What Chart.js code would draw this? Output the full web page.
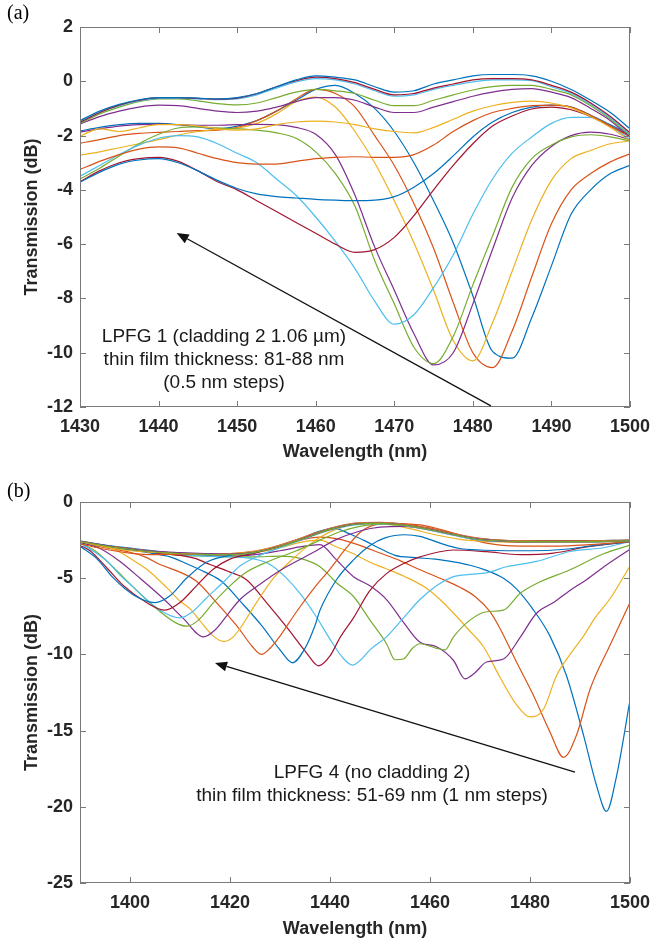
<!DOCTYPE html>
<html>
<head>
<meta charset="utf-8">
<script src="https://cdn.jsdelivr.net/npm/chart.js@4.4.1/dist/chart.umd.min.js"></script>
<style>
  body { margin: 0; background: #fff; width: 654px; height: 943px; position: relative; overflow: hidden; }
  .box { position: absolute; left: 0; width: 654px; }
  .panel { position: absolute; left: 7px; font-family: "Liberation Serif", "Times New Roman", serif; font-size: 20px; line-height: 24px; color: #000; }
  .note { position: absolute; width: 400px; text-align: center; font-family: "Liberation Sans", Arial, sans-serif; font-size: 19px; line-height: 23px; color: #1a1a1a; }
</style>
</head>
<body>
<div class="box" style="top:0;height:470px"><canvas id="canvasA" width="654" height="470"></canvas></div>
<div class="box" style="top:475px;height:468px"><canvas id="canvasB" width="654" height="468"></canvas></div>
<div class="panel" style="top:0">(a)</div>
<div class="panel" style="top:478px">(b)</div>
<div class="note" style="left:24px;top:324px">LPFG 1 (cladding 2 1.06 µm)<br>thin film thickness: 81-88 nm<br>(0.5 nm steps)</div>
<div class="note" style="left:172px;top:760px">LPFG 4 (no cladding 2)<br>thin film thickness: 51-69 nm (1 nm steps)</div>

<script>
//matlab default line colours
var colors = ['#0072BD', '#D95319', '#EDB120', '#7E2F8E', '#77AC30', '#4DBEEE', '#A2142F'];

//panel (a): wavelength grid (nm)
var waveA = [1430, 1432.5, 1435, 1437.5, 1440, 1442.5, 1445, 1447.5, 1450, 1452.5, 1455, 1457.5, 1460, 1462.5, 1465,
  1467.5, 1470, 1472.5, 1475, 1477.5, 1480, 1482.5, 1485, 1487.5, 1490, 1492.5, 1495, 1497.5, 1500];

//panel (a): transmission (dB), one array per film thickness
var a01 = [-1.83, -1.7, -1.6, -1.55, -1.55, -1.6, -1.68, -1.75, -1.65, -1.45, -1.1, -0.7, -0.3, -0.15, -0.45, -1.0, -1.85, -3.0, -4.4, -5.95, -7.9, -9.95, -10.2, -8.7, -6.8, -4.9, -4.0, -3.4, -3.1];
var a02 = [-2.28, -2.15, -2.0, -1.92, -1.88, -1.85, -1.82, -1.8, -1.7, -1.45, -1.1, -0.65, -0.3, -0.45, -0.95, -2.0, -3.1, -4.5, -6.15, -8.15, -10.0, -10.55, -9.2, -7.2, -5.25, -4.0, -3.4, -2.97, -2.67];
var a03 = [-2.72, -2.6, -2.45, -2.3, -2.15, -1.98, -1.85, -1.77, -1.72, -1.55, -1.2, -0.75, -0.58, -0.95, -1.85, -3.0, -4.4, -5.95, -7.7, -9.55, -10.3, -8.9, -7.0, -5.1, -3.65, -2.85, -2.55, -2.3, -2.2];
var a04 = [-1.87, -1.75, -1.65, -1.6, -1.58, -1.6, -1.62, -1.62, -1.6, -1.59, -1.6, -1.7, -1.95, -2.7, -4.2, -6.1, -7.7, -9.3, -10.45, -10.0, -8.2, -6.2, -4.3, -3.1, -2.4, -2.0, -1.87, -1.95, -2.15];
var a05 = [-3.6, -3.2, -2.75, -2.3, -1.95, -1.72, -1.68, -1.72, -1.75, -1.8, -1.9, -2.1, -2.6, -3.4, -4.6, -6.6, -8.2, -9.8, -10.4, -9.4, -7.5, -5.7, -3.9, -2.85, -2.35, -2.05, -1.97, -2.05, -2.2];
var a06 = [-3.5, -3.1, -2.7, -2.35, -2.1, -2.0, -2.05, -2.3, -2.65, -3.0, -3.6, -4.2, -5.0, -5.9, -6.9, -8.1, -8.95, -8.6, -7.6, -6.4, -4.9, -3.6, -2.65, -2.05, -1.55, -1.33, -1.33, -1.65, -2.15];
var a07 = [-3.7, -3.3, -3.0, -2.85, -2.8, -2.95, -3.3, -3.7, -4.0, -4.4, -4.8, -5.2, -5.6, -6.0, -6.3, -6.2, -5.75, -4.95, -4.0, -3.1, -2.3, -1.65, -1.28, -1.02, -0.95, -1.05, -1.3, -1.65, -2.0];
var a08 = [-3.72, -3.35, -3.05, -2.9, -2.85, -3.0, -3.3, -3.65, -3.95, -4.15, -4.25, -4.3, -4.35, -4.38, -4.4, -4.38, -4.25, -3.9, -3.4, -2.75, -2.05, -1.5, -1.15, -0.95, -0.88, -0.95, -1.25, -1.6, -1.95];
var a09 = [-3.25, -2.95, -2.7, -2.5, -2.42, -2.45, -2.65, -2.85, -3.0, -3.05, -3.05, -2.95, -2.85, -2.8, -2.78, -2.8, -2.8, -2.7, -2.35, -1.85, -1.45, -1.15, -1.0, -0.9, -0.88, -0.95, -1.25, -1.65, -2.05];
var a10 = [-2.02, -1.75, -1.85, -1.72, -1.6, -1.6, -1.65, -1.75, -1.8, -1.75, -1.6, -1.5, -1.47, -1.5, -1.6, -1.75, -1.85, -1.9, -1.7, -1.4, -1.1, -0.9, -0.78, -0.73, -0.8, -0.98, -1.3, -1.7, -2.2];
var a11 = [-1.58, -1.3, -1.1, -0.95, -0.88, -0.9, -1.0, -1.1, -1.15, -1.1, -0.95, -0.75, -0.6, -0.6, -0.7, -0.95, -1.15, -1.15, -0.95, -0.75, -0.55, -0.4, -0.3, -0.27, -0.4, -0.6, -1.0, -1.45, -2.05];
var a12 = [-1.55, -1.2, -0.95, -0.75, -0.65, -0.65, -0.72, -0.82, -0.87, -0.8, -0.6, -0.4, -0.3, -0.35, -0.45, -0.7, -0.9, -0.9, -0.7, -0.5, -0.32, -0.2, -0.15, -0.15, -0.3, -0.5, -0.9, -1.4, -2.0];
var a13 = [-1.5, -1.15, -0.9, -0.72, -0.63, -0.62, -0.65, -0.68, -0.65, -0.5, -0.25, -0.02, 0.1, 0.05, -0.1, -0.35, -0.55, -0.5, -0.3, -0.15, -0.02, 0.05, 0.05, 0.02, -0.2, -0.45, -0.85, -1.35, -1.95];
var a14 = [-1.52, -1.15, -0.88, -0.7, -0.6, -0.6, -0.63, -0.66, -0.62, -0.46, -0.2, 0.02, 0.15, 0.1, -0.05, -0.3, -0.5, -0.45, -0.25, -0.1, 0.05, 0.1, 0.1, 0.05, -0.15, -0.4, -0.8, -1.3, -1.9];
var a15 = [-1.45, -1.1, -0.85, -0.68, -0.6, -0.6, -0.62, -0.65, -0.6, -0.45, -0.2, 0.05, 0.2, 0.15, 0.05, -0.2, -0.4, -0.35, -0.1, 0.05, 0.2, 0.25, 0.25, 0.2, 0.0, -0.3, -0.7, -1.15, -1.75];
var curvesA = [a01, a02, a03, a04, a05, a06, a07, a08, a09, a10, a11, a12, a13, a14, a15];

//panel (b): [wavelength (nm), transmission (dB)] per film thickness
var b01 = [[1390, -2.58], [1395, -2.83], [1400, -3.03], [1405, -3.22], [1410, -3.37], [1415, -3.44], [1420, -3.44], [1425, -3.3], [1430, -2.95], [1434, -2.45], [1438, -1.9], [1441, -1.75], [1444, -2.1], [1447, -2.55], [1450, -3.05], [1453, -3.5], [1457, -3.65], [1461, -3.75], [1465, -3.95], [1468, -4.15], [1471, -4.45], [1474.7, -5.0], [1477.3, -5.7], [1480.5, -7.0], [1484, -8.8], [1487.3, -11.4], [1490.7, -15.3], [1493.3, -18.6], [1495.3, -20.3], [1497.3, -18.0], [1500, -13.0]];
var b02 = [[1390, -2.6], [1395, -2.86], [1400, -3.06], [1405, -3.25], [1410, -3.4], [1415, -3.46], [1420, -3.46], [1425, -3.3], [1430, -2.95], [1434, -2.5], [1438, -2.3], [1442, -2.45], [1446, -2.85], [1450, -3.35], [1454, -3.85], [1458, -4.45], [1462, -5.0], [1466, -5.6], [1469, -6.2], [1472, -7.2], [1474, -8.3], [1477.3, -10.5], [1480.7, -12.7], [1484, -15.1], [1486.7, -16.75], [1489.3, -15.3], [1492, -12.3], [1496, -9.4], [1500, -6.6]];
var b03 = [[1390, -2.62], [1395, -2.88], [1400, -3.08], [1405, -3.27], [1410, -3.42], [1415, -3.48], [1420, -3.48], [1425, -3.32], [1430, -3.0], [1434, -2.65], [1438, -2.5], [1441, -2.9], [1444.7, -3.4], [1448, -3.95], [1451, -4.35], [1455, -4.9], [1459, -5.6], [1462, -6.4], [1465, -7.4], [1467.5, -8.3], [1470.7, -9.5], [1474, -11.5], [1477.3, -13.3], [1480, -14.1], [1482.7, -13.6], [1485.3, -11.4], [1488, -10.0], [1490.7, -8.8], [1493, -7.6], [1496, -6.35], [1500, -4.2]];
var b04 = [[1390, -2.65], [1395, -2.9], [1400, -3.1], [1405, -3.3], [1410, -3.45], [1415, -3.52], [1420, -3.55], [1425, -3.45], [1430, -3.2], [1434, -2.95], [1438, -2.8], [1441, -3.7], [1444.7, -4.9], [1448, -5.5], [1451.3, -6.4], [1454.7, -7.9], [1458, -9.2], [1461.3, -9.5], [1464.7, -10.4], [1467, -11.6], [1469, -11.2], [1471.3, -10.5], [1474.7, -10.3], [1478, -8.9], [1481.3, -7.3], [1484.7, -6.6], [1488, -5.8], [1491.3, -5.1], [1495, -4.2], [1500, -3.1]];
var b05 = [[1390, -2.65], [1395, -2.92], [1400, -3.12], [1405, -3.32], [1410, -3.48], [1415, -3.55], [1420, -3.6], [1425, -3.6], [1430, -3.55], [1434, -3.7], [1438, -4.25], [1441.3, -5.3], [1444.7, -6.2], [1448, -7.75], [1451.3, -9.3], [1453, -10.35], [1454.7, -10.3], [1456.5, -9.6], [1458, -9.3], [1461.3, -9.6], [1463, -9.7], [1464.7, -8.85], [1468, -7.75], [1471.3, -7.2], [1474.7, -7.1], [1478, -6.0], [1481.3, -5.35], [1488, -4.45], [1494.7, -3.4], [1500, -2.83]];
var b06 = [[1390, -2.62], [1395, -2.9], [1400, -3.1], [1405, -3.3], [1410, -3.45], [1415, -3.55], [1420, -3.6], [1425, -3.75], [1428, -4.1], [1431, -4.9], [1434, -6.0], [1437, -7.4], [1440, -9.0], [1442.5, -10.2], [1444.5, -10.7], [1446, -10.4], [1448, -9.7], [1451.3, -8.85], [1454.7, -7.6], [1458, -6.4], [1461.3, -5.5], [1464.7, -4.9], [1468, -4.75], [1471.3, -4.65], [1475.3, -4.25], [1481.3, -3.9], [1488, -3.25], [1494.7, -3.0], [1500, -2.6]];
var b07 = [[1390, -2.62], [1395, -2.9], [1400, -3.1], [1405, -3.35], [1410, -3.5], [1413, -3.7], [1416, -4.1], [1420, -4.6], [1423.3, -5.1], [1427.3, -6.6], [1431.3, -8.2], [1435.3, -9.9], [1437.7, -10.75], [1440, -10.1], [1442, -8.9], [1444.7, -7.6], [1448, -5.8], [1451.3, -4.7], [1455, -4.0], [1458, -3.6], [1464.7, -3.15], [1471.3, -3.26], [1478, -3.45], [1484.7, -3.35], [1491.3, -2.95], [1500, -2.6]];
var b08 = [[1390, -2.64], [1395, -2.95], [1400, -3.15], [1405, -3.4], [1408, -3.6], [1411, -4.0], [1415, -4.6], [1418.3, -5.2], [1422.3, -6.6], [1426.3, -8.1], [1430, -9.7], [1432.5, -10.55], [1435, -9.6], [1437, -8.1], [1438, -7.1], [1441.3, -5.1], [1444.7, -3.8], [1448, -2.85], [1451, -2.35], [1455, -2.15], [1458, -2.25], [1462, -2.7], [1466, -3.05], [1470, -3.15], [1480, -3.2], [1487, -3.1], [1493, -2.85], [1500, -2.6]];
var b09 = [[1390, -2.65], [1395, -3.0], [1400, -3.3], [1403, -3.6], [1406, -4.1], [1410, -4.6], [1413.3, -5.2], [1417.3, -6.6], [1421.3, -8.1], [1424.5, -9.5], [1426.3, -10.0], [1428, -9.6], [1430, -8.8], [1433.3, -7.2], [1436.7, -5.7], [1440, -4.4], [1443.3, -3.0], [1446, -2.0], [1448, -1.6], [1451.3, -1.42], [1458, -1.5], [1464.7, -2.05], [1471.3, -2.7], [1478, -2.9], [1484.7, -2.9], [1492, -2.8], [1500, -2.6]];
var b10 = [[1390, -2.6], [1395, -2.9], [1398, -3.3], [1401, -3.9], [1403.3, -4.4], [1407.3, -5.6], [1410, -6.5], [1412, -7.0], [1414, -7.8], [1416.5, -8.75], [1418.7, -9.15], [1420.5, -8.9], [1422, -8.3], [1425.3, -6.6], [1428.7, -5.0], [1432.7, -3.7], [1436.7, -2.6], [1440.7, -1.86], [1446, -1.45], [1451, -1.45], [1456, -1.75], [1461, -2.15], [1466, -2.45], [1472, -2.6], [1480, -2.65], [1490, -2.65], [1500, -2.55]];
var b11 = [[1390, -2.65], [1394, -3.05], [1398, -3.9], [1402, -5.0], [1406.7, -6.35], [1410.7, -7.65], [1414.7, -8.85], [1417, -8.4], [1419.5, -7.4], [1422, -6.4], [1426, -5.4], [1430, -4.5], [1436.7, -3.3], [1441, -2.5], [1446, -1.9], [1450, -1.65], [1455, -1.6], [1460, -1.85], [1465, -2.2], [1470, -2.48], [1480, -2.62], [1490, -2.62], [1500, -2.55]];
var b12 = [[1390, -2.7], [1393, -3.2], [1396.7, -4.3], [1400.7, -5.6], [1405.3, -7.0], [1409, -7.9], [1411.3, -8.15], [1413.5, -7.8], [1416.7, -6.6], [1420, -5.5], [1423.3, -4.6], [1427.3, -3.95], [1433.3, -3.2], [1438, -2.5], [1442, -1.95], [1446, -1.6], [1450, -1.45], [1455, -1.55], [1460, -1.82], [1465, -2.17], [1470, -2.47], [1480, -2.6], [1490, -2.6], [1500, -2.55]];
var b13 = [[1390, -2.7], [1393, -3.3], [1395.5, -3.9], [1398, -4.8], [1400.7, -5.6], [1403.3, -6.4], [1406.5, -7.2], [1410, -7.6], [1412.5, -7.2], [1415.3, -6.3], [1418.7, -5.25], [1422, -4.2], [1426, -3.5], [1430, -3.0], [1435, -2.4], [1440, -1.85], [1445, -1.5], [1450, -1.42], [1455, -1.55], [1460, -1.85], [1465, -2.2], [1470, -2.5], [1480, -2.6], [1490, -2.62], [1500, -2.55]];
var b14 = [[1390, -2.85], [1392, -3.2], [1395.3, -4.3], [1398.7, -5.5], [1403.3, -6.6], [1407, -7.1], [1410, -6.6], [1413.3, -5.5], [1416.7, -4.4], [1420, -3.75], [1425, -3.35], [1430, -2.9], [1435, -2.35], [1440, -1.8], [1445, -1.45], [1450, -1.38], [1455, -1.5], [1460, -1.8], [1465, -2.15], [1470, -2.45], [1480, -2.58], [1490, -2.58], [1500, -2.52]];
var b15 = [[1390, -2.9], [1393.3, -3.7], [1396.7, -5.0], [1400.7, -6.1], [1405, -6.6], [1408, -6.15], [1411.3, -5.0], [1415.3, -3.95], [1420, -3.5], [1425, -3.3], [1430, -2.85], [1435, -2.3], [1440, -1.75], [1445, -1.42], [1450, -1.35], [1455, -1.48], [1460, -1.75], [1465, -2.1], [1470, -2.4], [1480, -2.55], [1490, -2.55], [1500, -2.5]];
var b16 = [[1390, -2.75], [1395, -3.1], [1400, -3.35], [1405, -3.45], [1410, -3.42], [1415, -3.4], [1420, -3.38], [1425, -3.22], [1430, -2.82], [1435, -2.27], [1440, -1.72], [1445, -1.38], [1450, -1.33], [1455, -1.45], [1460, -1.72], [1465, -2.08], [1470, -2.38], [1480, -2.55], [1490, -2.55], [1500, -2.5]];
var b17 = [[1390, -2.6], [1395, -2.95], [1400, -3.2], [1405, -3.3], [1410, -3.36], [1415, -3.4], [1420, -3.4], [1425, -3.24], [1430, -2.86], [1435, -2.3], [1440, -1.76], [1445, -1.42], [1450, -1.36], [1455, -1.5], [1460, -1.78], [1465, -2.12], [1470, -2.42], [1480, -2.58], [1490, -2.6], [1500, -2.52]];
var b18 = [[1390, -2.55], [1395, -2.85], [1400, -3.08], [1405, -3.24], [1410, -3.32], [1415, -3.38], [1420, -3.42], [1425, -3.28], [1430, -2.9], [1435, -2.33], [1440, -1.78], [1445, -1.44], [1450, -1.38], [1455, -1.52], [1460, -1.8], [1465, -2.14], [1470, -2.44], [1480, -2.6], [1490, -2.6], [1500, -2.53]];
var b19 = [[1390, -2.58], [1395, -2.88], [1400, -3.1], [1405, -3.28], [1410, -3.38], [1415, -3.44], [1420, -3.46], [1425, -3.3], [1430, -2.92], [1435, -2.36], [1440, -1.8], [1445, -1.46], [1450, -1.4], [1455, -1.54], [1460, -1.82], [1465, -2.16], [1470, -2.46], [1480, -2.6], [1490, -2.6], [1500, -2.54]];
var curvesB = [b01, b02, b03, b04, b05, b06, b07, b08, b09, b10, b11, b12, b13, b14, b15, b16, b17, b18, b19];

//annotation arrows, in data units [wavelength, dB]
var arrowA = { from: [1482.3, -11.96], to: [1442.3, -5.59] };
var arrowB = { from: [1489, -17.72], to: [1417, -10.56] };

Chart.defaults.font.family = "'Liberation Sans', Arial, sans-serif";
Chart.defaults.color = '#262626';

var tickFont = { size: 18, weight: 'bold' };

//box with inward ticks on all four sides, plus the arrow
var matlabAxes = {
  id: 'matlabAxes',
  afterDatasetsDraw: function (chart) {
    var ctx = chart.ctx, a = chart.chartArea;
    var sx = chart.scales.x, sy = chart.scales.y;
    ctx.save();
    ctx.strokeStyle = '#7a7a7a';
    ctx.lineWidth = 1;
    ctx.strokeRect(a.left + 0.5, a.top + 0.5, a.right - a.left - 1, a.bottom - a.top - 1);
    ctx.beginPath();
    sx.ticks.forEach(function (t) {
      var px = Math.round(sx.getPixelForValue(t.value)) + 0.5;
      ctx.moveTo(px, a.bottom); ctx.lineTo(px, a.bottom - 6);
      ctx.moveTo(px, a.top); ctx.lineTo(px, a.top + 6);
    });
    sy.ticks.forEach(function (t) {
      var py = Math.round(sy.getPixelForValue(t.value)) + 0.5;
      ctx.moveTo(a.left, py); ctx.lineTo(a.left + 6, py);
      ctx.moveTo(a.right, py); ctx.lineTo(a.right - 6, py);
    });
    ctx.stroke();

    //arrow
    var arrow = chart.options.plugins.matlabAxes.arrow;
    var x0 = sx.getPixelForValue(arrow.from[0]), y0 = sy.getPixelForValue(arrow.from[1]);
    var x1 = sx.getPixelForValue(arrow.to[0]), y1 = sy.getPixelForValue(arrow.to[1]);
    var ang = Math.atan2(y1 - y0, x1 - x0);
    var len = 12, half = 5;
    var bx = x1 - len * Math.cos(ang), by = y1 - len * Math.sin(ang);
    ctx.strokeStyle = '#111';
    ctx.fillStyle = '#111';
    ctx.lineWidth = 1.3;
    ctx.beginPath();
    ctx.moveTo(x0, y0);
    ctx.lineTo(bx, by);
    ctx.stroke();
    ctx.beginPath();
    ctx.moveTo(x1, y1);
    ctx.lineTo(bx + half * Math.sin(ang), by - half * Math.cos(ang));
    ctx.lineTo(bx - half * Math.sin(ang), by + half * Math.cos(ang));
    ctx.closePath();
    ctx.fill();
    ctx.restore();
  }
};

function makeDatasets(points) {
  return points.map(function (pts, i) {
    return {
      data: pts,
      borderColor: colors[i % colors.length],
      borderWidth: 1.2,
      pointRadius: 0,
      showLine: true,
      fill: false,
      cubicInterpolationMode: 'monotone',
      order: points.length - i
    };
  });
}

//plain numbers, no thousands separator
function plainTick(value) {
  return String(value);
}

//draw one panel
function drawPanel(id, datasets, p) {
  return new Chart(document.getElementById(id), {
    type: 'scatter',
    data: { datasets: datasets },
    options: {
      responsive: false,
      animation: false,
      layout: { padding: { left: 0, right: 24, top: p.padTop, bottom: 0 } },
      plugins: {
        legend: { display: false },
        tooltip: { enabled: false },
        matlabAxes: { arrow: p.arrow }
      },
      scales: {
        x: {
          type: 'linear',
          min: p.xMin,
          max: p.xMax,
          ticks: { stepSize: p.xStep, includeBounds: false, callback: plainTick, font: tickFont, color: '#262626', padding: 9, maxRotation: 0, autoSkip: false },
          grid: { display: false, drawTicks: false },
          border: { display: false },
          title: { display: true, text: 'Wavelength (nm)', font: tickFont, color: '#262626', padding: { top: 0, bottom: p.xTitlePad } },
          afterFit: function (s) { s.height = p.xHeight; s.paddingLeft = 0; s.paddingRight = 0; }
        },
        y: {
          type: 'linear',
          min: p.yMin,
          max: p.yMax,
          ticks: { stepSize: p.yStep, callback: plainTick, font: tickFont, color: '#262626', padding: 7, autoSkip: false },
          grid: { display: false, drawTicks: false },
          border: { display: false },
          title: { display: true, text: 'Transmission (dB)', font: tickFont, color: '#262626', padding: { top: 21, bottom: 0 } },
          afterFit: function (s) { s.width = 80; s.paddingTop = 0; s.paddingBottom = 0; }
        }
      }
    },
    plugins: [matlabAxes]
  });
}

var dataA = curvesA.map(function (c) {
  return waveA.map(function (w, i) { return { x: w, y: c[i] }; });
});
var dataB = curvesB.map(function (c) {
  return c.map(function (p) { return { x: p[0], y: p[1] }; });
});

drawPanel('canvasA', makeDatasets(dataA), {
  padTop: 27, xMin: 1430, xMax: 1500, xStep: 10, yMin: -12, yMax: 2, yStep: 2,
  xHeight: 63, xTitlePad: 7, arrow: arrowA
});

drawPanel('canvasB', makeDatasets(dataB), {
  padTop: 27, xMin: 1390, xMax: 1500, xStep: 20, yMin: -25, yMax: 0, yStep: 5,
  xHeight: 60, xTitlePad: 3, arrow: arrowB
});
</script>
</body>
</html>
